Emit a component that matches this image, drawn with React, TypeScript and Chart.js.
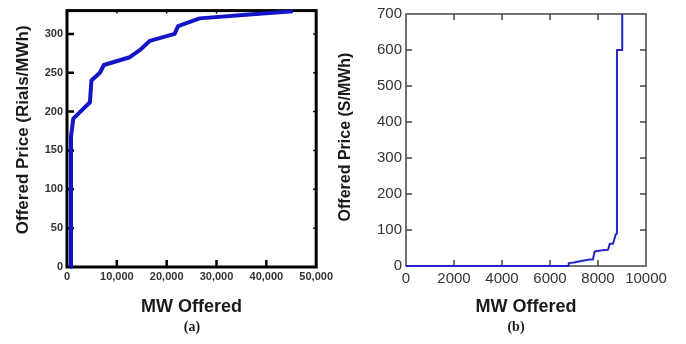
import React, { useEffect, useRef } from "react";
import { Chart, registerables } from "chart.js";

Chart.register(...registerables);

// ---- Panel (a) data ----
const aMW = [700, 800, 1270, 4600, 4900, 6600, 7400, 12600, 14600, 16600, 21600, 22300, 26600, 36600, 45300];
const aPrice = [0, 168, 191, 212, 240, 250, 260, 270, 279, 291, 300, 310, 320, 325, 329];
const aXTicks = [0, 10000, 20000, 30000, 40000, 50000];
const aYTicks = [0, 50, 100, 150, 200, 250, 300];

// ---- Panel (b) data ----
const bMW = [0, 6750, 6780, 7000, 7300, 7660, 7790, 7860, 8100, 8420, 8490, 8625, 8740, 8790, 8790, 9010, 9010];
const bPrice = [0, 0, 8, 10, 14, 18, 18, 40, 43, 45, 62, 62, 88, 90, 600, 600, 700];
const bXTicks = [0, 2000, 4000, 6000, 8000, 10000];
const bYTicks = [0, 100, 200, 300, 400, 500, 600, 700];

const boxPlugin = {
  id: "box",
  beforeDatasetsDraw(chart: any, _args: any, opts: any) {
    const { ctx, chartArea, scales } = chart;
    const { left, right, top, bottom } = chartArea;
    const x = scales.x;
    const y = scales.y;
    ctx.save();
    ctx.strokeStyle = opts.color;
    ctx.lineCap = "butt";
    ctx.lineWidth = opts.tickWidth;
    ctx.beginPath();
    x.ticks.forEach((t: any) => {
      const px = x.getPixelForValue(t.value);
      if (px <= left + 1 || px >= right - 1) return;
      ctx.moveTo(px, bottom);
      ctx.lineTo(px, bottom - opts.tickLen);
    });
    y.ticks.forEach((t: any) => {
      const py = y.getPixelForValue(t.value);
      if (py <= top + 1 || py >= bottom - 1) return;
      ctx.moveTo(left, py);
      ctx.lineTo(left + opts.tickLen, py);
    });
    ctx.stroke();
    ctx.lineWidth = opts.tickWidth2;
    ctx.beginPath();
    x.ticks.forEach((t: any) => {
      const px = x.getPixelForValue(t.value);
      if (px <= left + 1 || px >= right - 1) return;
      ctx.moveTo(px, top);
      ctx.lineTo(px, top + opts.tickLen2);
    });
    y.ticks.forEach((t: any) => {
      const py = y.getPixelForValue(t.value);
      if (py <= top + 1 || py >= bottom - 1) return;
      ctx.moveTo(right, py);
      ctx.lineTo(right - opts.tickLen2, py);
    });
    ctx.stroke();
    ctx.lineWidth = opts.borderWidth;
    ctx.strokeRect(left, top, right - left, bottom - top);
    ctx.restore();
  },
};

// Draws the rotated y-axis title, centred on the plot with a small vertical shift
const yTitlePlugin = {
  id: "ytitle",
  afterDraw(chart: any, _args: any, opts: any) {
    const { ctx, chartArea } = chart;
    ctx.save();
    ctx.font = opts.font;
    ctx.fillStyle = opts.color;
    ctx.textAlign = "center";
    ctx.textBaseline = "middle";
    ctx.translate(opts.x, (chartArea.top + chartArea.bottom) / 2 + opts.shift);
    ctx.rotate(-Math.PI / 2);
    ctx.fillText(opts.text, 0, 0);
    ctx.restore();
  },
};

type PanelProps = {
  left: number;
  width: number;
  xs: number[];
  ys: number[];
  xTicks: number[];
  yTicks: number[];
  xMax: number;
  yMax: number;
  yTitle: string;
  lineColor: string;
  lineWidth: number;
  yAxisWidth: number;
  xAxisHeight: number;
  padTop: number;
  padRight: number;
  tickFont: any;
  tickColor: string;
  tickPadX: number;
  tickPadY: number;
  yTitleFont: string;
  yTitleX: number;
  yTitleShift: number;
  xTitleFont: any;
  xTitlePad: number;
  comma: boolean;
  box: any;
};

function Panel(p: PanelProps) {
  const ref = useRef<HTMLCanvasElement | null>(null);
  useEffect(() => {
    if (!ref.current) return;
    const data = p.xs.map((x, i) => ({ x, y: p.ys[i] }));
    const chart = new Chart(ref.current, {
      type: "line",
      data: {
        datasets: [
          {
            data,
            borderColor: p.lineColor,
            borderWidth: p.lineWidth,
            pointRadius: 0,
            fill: false,
            tension: 0,
            clip: 3,
            borderJoinStyle: "round",
          } as any,
        ],
      },
      options: {
        animation: false,
        responsive: false,
        maintainAspectRatio: false,
        layout: { padding: { top: p.padTop, right: p.padRight, bottom: 0, left: 0 } },
        plugins: {
          legend: { display: false },
          tooltip: { enabled: false },
          box: p.box,
          ytitle: {
            text: p.yTitle,
            font: p.yTitleFont,
            color: "#1a1a1a",
            x: p.yTitleX,
            shift: p.yTitleShift,
          },
        } as any,
        scales: {
          x: {
            type: "linear",
            min: 0,
            max: p.xMax,
            grid: { display: false, drawTicks: false },
            border: { display: false },
            afterBuildTicks: (s: any) => {
              s.ticks = p.xTicks.map((v) => ({ value: v }));
            },
            afterFit: (s: any) => {
              s.height = p.xAxisHeight;
            },
            ticks: {
              font: p.tickFont,
              color: p.tickColor,
              padding: p.tickPadX,
              maxRotation: 0,
              autoSkip: false,
              callback: (v: any) =>
                p.comma ? Number(v).toLocaleString("en-US") : String(v),
            },
            title: {
              display: true,
              text: "MW Offered",
              font: p.xTitleFont,
              color: "#1a1a1a",
              padding: { top: 0, bottom: p.xTitlePad },
            },
          },
          y: {
            type: "linear",
            min: 0,
            max: p.yMax,
            grid: { display: false, drawTicks: false },
            border: { display: false },
            afterBuildTicks: (s: any) => {
              s.ticks = p.yTicks.map((v) => ({ value: v }));
            },
            afterFit: (s: any) => {
              s.width = p.yAxisWidth;
            },
            ticks: {
              font: p.tickFont,
              color: p.tickColor,
              padding: p.tickPadY,
              autoSkip: false,
              callback: (v: any) => String(v),
            },
            title: { display: false },
          },
        },
      } as any,
      plugins: [boxPlugin, yTitlePlugin],
    });
    return () => chart.destroy();
  }, []);
  return (
    <canvas
      ref={ref}
      width={p.width}
      height={344}
      style={{ position: "absolute", left: p.left, top: 0, width: p.width, height: 344 }}
    />
  );
}

const labelStyle: React.CSSProperties = {
  position: "absolute",
  top: 318,
  fontFamily: "'Liberation Serif', 'Times New Roman', serif",
  fontWeight: "bold",
  fontSize: 14,
  lineHeight: "18px",
  color: "#1a1a1a",
  width: 40,
  textAlign: "center",
};

export default function App() {
  return (
    <div
      style={{
        position: "fixed",
        left: 0,
        top: 0,
        width: 686,
        height: 344,
        background: "#ffffff",
        overflow: "hidden",
      }}
    >
      <Panel
        left={0}
        width={336}
        xs={aMW}
        ys={aPrice}
        xTicks={aXTicks}
        yTicks={aYTicks}
        xMax={50000}
        yMax={330}
        yTitle="Offered Price (Rials/MWh)"
        lineColor="#1414c8"
        lineWidth={4}
        yAxisWidth={67}
        xAxisHeight={77}
        padTop={10}
        padRight={18}
        tickFont={{ family: "'Liberation Sans', Arial, sans-serif", size: 11, weight: "bold" }}
        tickColor="#333333"
        tickPadX={3}
        tickPadY={4}
        yTitleFont="bold 17px 'Liberation Sans', Arial, sans-serif"
        yTitleX={23}
        yTitleShift={-9}
        xTitleFont={{ family: "'Liberation Sans', Arial, sans-serif", size: 18, weight: "bold" }}
        xTitlePad={26}
        comma={true}
        box={{ color: "#000000", borderWidth: 3, tickWidth: 2.5, tickLen: 7, tickWidth2: 1.5, tickLen2: 3 }}
      />
      <Panel
        left={334}
        width={352}
        xs={bMW}
        ys={bPrice}
        xTicks={bXTicks}
        yTicks={bYTicks}
        xMax={10000}
        yMax={700}
        yTitle="Offered Price (S/MWh)"
        lineColor="#2424cc"
        lineWidth={2}
        yAxisWidth={72}
        xAxisHeight={78}
        padTop={14}
        padRight={40}
        tickFont={{ family: "'Liberation Sans', Arial, sans-serif", size: 15, weight: "normal" }}
        tickColor="#333333"
        tickPadX={4}
        tickPadY={4}
        yTitleFont="bold 16px 'Liberation Sans', Arial, sans-serif"
        yTitleX={12}
        yTitleShift={-3}
        xTitleFont={{ family: "'Liberation Sans', Arial, sans-serif", size: 18, weight: "bold" }}
        xTitlePad={26}
        comma={false}
        box={{ color: "#444444", borderWidth: 1.5, tickWidth: 1.5, tickLen: 6, tickWidth2: 1.5, tickLen2: 6 }}
      />
      <div style={{ ...labelStyle, left: 172 }}>(a)</div>
      <div style={{ ...labelStyle, left: 496 }}>(b)</div>
    </div>
  );
}
